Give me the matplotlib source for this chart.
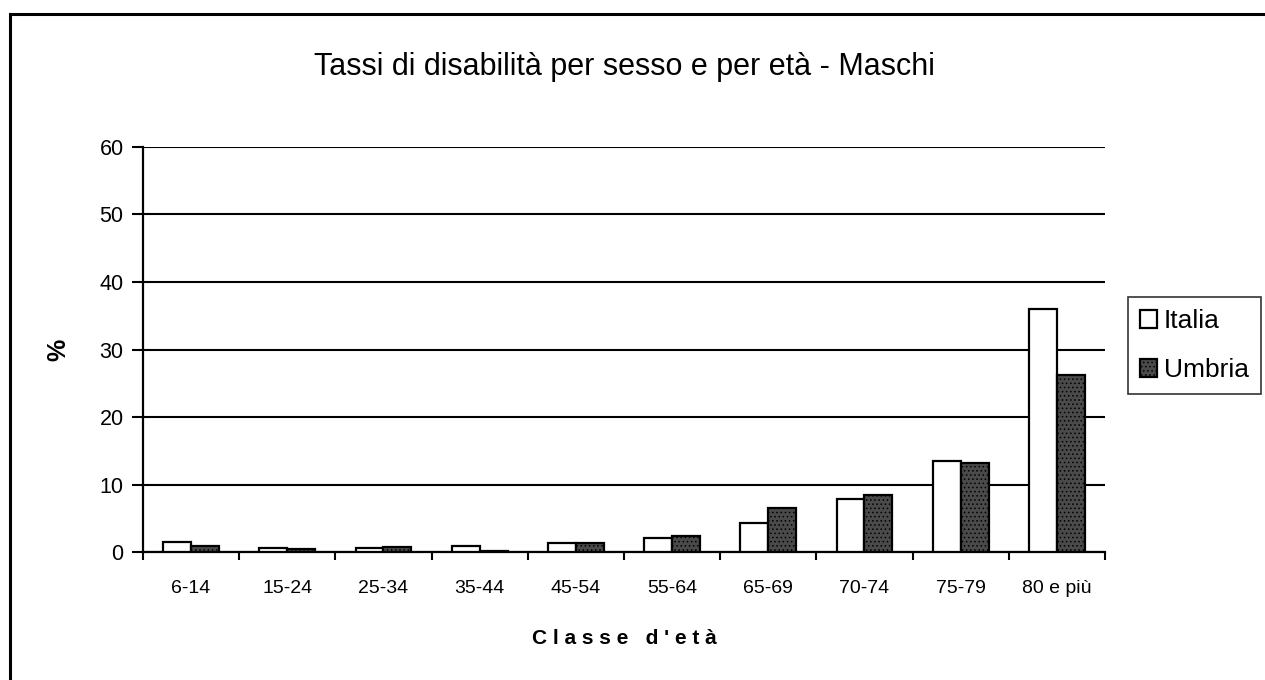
import numpy as np
import matplotlib
matplotlib.use("Agg")
from matplotlib import pyplot as plt
from matplotlib.patches import Rectangle

plt.rcParams['font.family'] = ['Liberation Sans', 'DejaVu Sans']
plt.rcParams['hatch.color'] = '#c8c8c8'
plt.rcParams['hatch.linewidth'] = 0.6

classi = ['6-14', '15-24', '25-34', '35-44', '45-54', '55-64',
          '65-69', '70-74', '75-79', '80 e più']
italia = [1.5, 0.6, 0.6, 0.9, 1.4, 2.1, 4.3, 7.9, 13.5, 36.0]
umbria = [0.9, 0.5, 0.8, 0.2, 1.4, 2.4, 6.5, 8.4, 13.2, 26.2]
y_ticks = [0, 10, 20, 30, 40, 50, 60]

fig = plt.figure(figsize=(12.65, 6.8), dpi=100)
ax = fig.add_axes([0.113, 0.188, 0.7605, 0.596])

x = np.arange(len(classi))
w = 0.29
ax.bar(x - w / 2, italia, w, color='white', edgecolor='black', linewidth=1.6,
       label='Italia', zorder=3)
ax.bar(x + w / 2, umbria, w, color='#4a4a4a', edgecolor='black', linewidth=1.6,
       hatch='....', label='Umbria', zorder=3)

ax.set_xlim(-0.5, len(classi) - 0.5)
ax.set_ylim(0, 60)
ax.set_yticks(y_ticks)
ax.yaxis.grid(True, color='black', linewidth=1.5, zorder=0)
ax.set_axisbelow(True)

# labels centred under each group, ticks on the group boundaries
ax.set_xticks(x)
ax.set_xticklabels(classi, fontsize=14)
ax.set_xticks(np.arange(len(classi) + 1) - 0.5, minor=True)
ax.tick_params(axis='x', which='major', length=0, pad=20)
ax.tick_params(axis='x', which='minor', length=6, width=1.5, direction='out')
ax.tick_params(axis='y', length=8, width=1.5, labelsize=15.5, pad=6)

for s in ['top', 'right']:
    ax.spines[s].set_visible(False)
for s in ['left', 'bottom']:
    ax.spines[s].set_linewidth(1.6)

ax.set_title('Tassi di disabilità per sesso e per età - Maschi',
             fontsize=22, pad=52)
ax.set_ylabel('%', fontsize=18, fontweight='bold', labelpad=21)
ax.set_xlabel("C l a s s e   d ' e t à", fontsize=15, fontweight='bold',
              labelpad=23)

leg = fig.legend(loc='upper left', bbox_to_anchor=(0.892, 0.563),
                 fontsize=19, frameon=True, fancybox=False,
                 edgecolor='black', handlelength=0.65, handleheight=0.65,
                 handletextpad=0.25, borderpad=0.45, borderaxespad=0,
                 labelspacing=0.95)
leg.get_frame().set_linewidth(1.2)

# outer chart border
fig.add_artist(Rectangle((0.008, -0.05), 1.1, 1.03, transform=fig.transFigure,
                         fill=False, edgecolor='black', linewidth=2.2))

fig.savefig('out.png', dpi=100)
